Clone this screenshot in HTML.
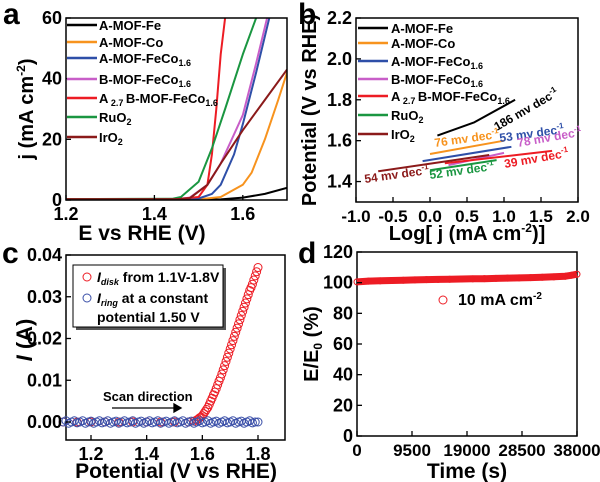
<!DOCTYPE html>
<html><head><meta charset="utf-8"><style>
html,body{margin:0;padding:0;background:#fff;}
svg{display:block;font-family:"Liberation Sans",Arial,sans-serif;font-weight:bold;}
</style></head><body>
<svg id="fig" width="600" height="482" viewBox="0 0 600 482">
<g id="pa"></g>
<g id="pb"></g>
<g id="pc"></g>
<g id="pd"></g>
</svg>
<script>
// ---------- Panel a data ----------
const aNames = ["A-MOF-Fe","A-MOF-Co","A-MOF-FeCo","B-MOF-FeCo","A2.7B-MOF-FeCo","RuO2","IrO2"];
const aColors = ["#000000","#f7931e","#2e4fa8","#c85ec8","#ed1c24","#1a9641","#8b1a1a"];
const aFeV = [1.2,1.4,1.5,1.55,1.6,1.65,1.7];
const aFeJ = [0.2,0.2,0.1,0.2,0.8,2,4];
const aCoV = [1.2,1.45,1.5,1.55,1.6,1.62,1.65,1.68,1.7];
const aCoJ = [0.3,0.3,0.2,1,5,9,20,33,42];
const aAFeCoV = [1.2,1.45,1.5,1.53,1.55,1.58,1.6,1.63,1.66];
const aAFeCoJ = [0.3,0.3,0.5,2,5,15,25,42,60];
const aBFeCoV = [1.2,1.45,1.48,1.52,1.55,1.6,1.63,1.655];
const aBFeCoJ = [0.3,0.3,0.8,5,12,28,45,60];
const aA27V = [1.2,1.45,1.5,1.52,1.53,1.54,1.55,1.56];
const aA27J = [0.3,0.3,1,5,15,30,48,60];
const aRuV = [1.2,1.44,1.46,1.5,1.53,1.56,1.6,1.63];
const aRuJ = [0.3,0.4,1,6,17,30,48,60];
const aIrV = [1.2,1.45,1.48,1.52,1.55,1.6,1.65,1.7];
const aIrJ = [0.3,0.3,0.6,5,12,23,33,43];
const aXTicks = [1.2,1.4,1.6];
const aYTicks = [0,20,40,60];
// ---------- Panel b data ----------
const bLogJ = [[0.1,0.6,1.15],[0.0,1.0],[-0.1,1.1],[0.25,1.0],[0.2,1.65],[0.0,0.9],[-0.7,0.8]];
const bV = [[1.625,1.69,1.80],[1.535,1.60],[1.50,1.57],[1.48,1.54],[1.49,1.55],[1.455,1.505],[1.45,1.53]];
const bSlopes = ["186 mv dec","76 mv dec","53 mv dec","78 mv dec","39 mv dec","52 mv dec","54 mv dec"];
const bXTicks = [-1.0,-0.5,0.0,0.5,1.0,1.5,2.0];
const bYTicks = [1.4,1.6,1.8,2.0,2.2];
// ---------- Panel c data ----------
const cDiskV = [1.1,1.15,1.2,1.25,1.3,1.35,1.4,1.45,1.5,1.55,1.57,1.58,1.585,1.59,1.595,1.60,1.605,1.61,1.615,1.62,1.625,1.63,1.635,1.64,1.645,1.65,1.655,1.66,1.665,1.67,1.675,1.68,1.685,1.69,1.695,1.70,1.705,1.71,1.715,1.72,1.725,1.73,1.735,1.74,1.745,1.75,1.755,1.76,1.765,1.77,1.775,1.78,1.785,1.79,1.795,1.80];
const cDiskI = [0,0,0,0,0,0,0,0,0,0,0.0002,0.0005,0.0007,0.001,0.0012,0.0015,0.002,0.0025,0.003,0.0035,0.0042,0.005,0.0057,0.0065,0.0072,0.008,0.0089,0.0098,0.0106,0.0115,0.0125,0.0135,0.0145,0.0155,0.0165,0.0175,0.0185,0.0195,0.0205,0.0215,0.0225,0.0235,0.0245,0.0255,0.0265,0.0275,0.0285,0.0295,0.0305,0.0315,0.0322,0.033,0.034,0.035,0.036,0.037];
const cRingV = [1.10,1.11,1.12,1.13,1.14,1.15,1.16,1.17,1.18,1.19,1.20,1.21,1.22,1.23,1.24,1.25,1.26,1.27,1.28,1.29,1.30,1.31,1.32,1.33,1.34,1.35,1.36,1.37,1.38,1.39,1.40,1.41,1.42,1.43,1.44,1.45,1.46,1.47,1.48,1.49,1.50,1.51,1.52,1.53,1.54,1.55,1.56,1.57,1.58,1.59,1.60,1.61,1.62,1.63,1.64,1.65,1.66,1.67,1.68,1.69,1.70,1.71,1.72,1.73,1.74,1.75,1.76,1.77,1.78,1.79,1.80];
const cRingI = [0,0.0003,-0.0003,0,0.0003,-0.0002,0,0.0003,-0.0003,0,0.0002,-0.0003,0,0.0003,-0.0002,0,0.0003,-0.0003,0,0.0002,-0.0003,0,0.0003,-0.0002,0,0.0003,-0.0003,0,0.0002,-0.0003,0,0.0003,-0.0002,0,0.0003,-0.0003,0,0.0002,-0.0003,0,0.0003,-0.0002,0,0.0003,-0.0003,0,0.0002,-0.0003,0,0.0003,-0.0002,0,0.0003,-0.0003,0,0.0002,-0.0003,0,0.0003,-0.0002,0,0.0003,-0.0003,0,0.0002,-0.0003,0,0.0003,-0.0002,0,0];
const cXTicks = [1.2,1.4,1.6,1.8];
const cYTicks = [0.00,0.01,0.02,0.03,0.04];
// ---------- Panel d data ----------
const dTime = [0,2000,4000,6000,8000,10000,12000,14000,16000,18000,20000,22000,24000,26000,28000,30000,32000,34000,36000,37000,38000];
const dRatio = [100.5,101,101.2,101.4,101.6,101.8,102,102.1,102.2,102.4,102.5,102.6,102.8,103,103.1,103.3,103.5,103.8,104.2,104.8,105.5];
const dXTicks = [0,9500,19000,28500,38000];
const dYTicks = [0,20,40,60,80,100,120];

const NS="http://www.w3.org/2000/svg";
function mk(parent,tag,attrs){const e=document.createElementNS(NS,tag);for(const k in attrs)e.setAttribute(k,attrs[k]);parent.appendChild(e);return e;}
function lin(d0,d1,p0,p1){return v=>p0+(v-d0)*(p1-p0)/(d1-d0);}
function frame(g,x0,y0,x1,y1){
  const r=mk(g,'rect',{x:x0,y:y0,width:x1-x0,height:y1-y0,fill:'none',stroke:'#000','stroke-width':1.5});
  
  
}
function txt(g,x,y,s,size,anchor,name,fill){
  const t=mk(g,'text',{x:x,y:y,'font-size':size,'text-anchor':anchor||'start',fill:fill||'#000'});
  t.textContent=s;
  
  
  return t;
}
function xticks(g,ticks,X,y1,fmt,size){
  ticks.forEach(v=>{mk(g,'line',{x1:X(v),x2:X(v),y1:y1,y2:y1-5,stroke:'#000','stroke-width':1.3});
    txt(g,X(v),y1+20,fmt(v),size||18,'middle','x-tick-label');});
}
function yticks(g,ticks,Y,x0,fmt){
  ticks.forEach(v=>{mk(g,'line',{x1:x0,x2:x0+5,y1:Y(v),y2:Y(v),stroke:'#000','stroke-width':1.3});
    txt(g,x0-4,Y(v)+6,fmt(v),18,'end','y-tick-label');});
}
function path(g,xs,ys,X,Y,color,w,name){
  const d=xs.map((v,i)=>(i?'L':'M')+X(v).toFixed(1)+','+Y(ys[i]).toFixed(1)).join('');
  const p=mk(g,'path',{d:d,fill:'none',stroke:color,'stroke-width':w,'stroke-linejoin':'round'});
  
  
  return p;
}
function legendLabel(g,x,y,i){
  const t=mk(g,'text',{x:x,y:y,'font-size':13});
  
  
  if(i===4){t.innerHTML='A<tspan font-size="9" dy="3"> 2.7 </tspan><tspan dy="-3">B-MOF-FeCo</tspan><tspan font-size="9" dy="3">1.6</tspan>';}
  else if(i===2||i===3){t.innerHTML=(i===2?'A':'B')+'-MOF-FeCo<tspan font-size="9" dy="3">1.6</tspan>';}
  else if(i===5){t.innerHTML='RuO<tspan font-size="9" dy="3">2</tspan>';}
  else if(i===6){t.innerHTML='IrO<tspan font-size="9" dy="3">2</tspan>';}
  else t.textContent=aNames[i];
}

// ===== Panel a =====
(function(){
  const g=document.getElementById('pa');
  const X=lin(1.2,1.7,66,287), Y=lin(0,60,200,18);
  const clip=mk(g,'clipPath',{id:'clipA'}); mk(clip,'rect',{x:66,y:18,width:221,height:182});
  const cg=mk(g,'g',{'clip-path':'url(#clipA)'});
  const sV=[aFeV,aCoV,aAFeCoV,aBFeCoV,aA27V,aRuV,aIrV], sJ=[aFeJ,aCoJ,aAFeCoJ,aBFeCoJ,aA27J,aRuJ,aIrJ];
  sV.forEach((v,i)=>path(cg,v,sJ[i],X,Y,aColors[i],2,'curve-'+aNames[i].toLowerCase().replace(/\./g,'')));
  frame(g,66,18,287,200);
  xticks(g,aXTicks,X,200,v=>v.toFixed(1));
  yticks(g,aYTicks,Y,66,v=>String(v));
  const ly=[25,42,58,79,98,117,137];
  ly.forEach((y,i)=>{const l=mk(g,'line',{x1:67,x2:97,y1:y,y2:y,stroke:aColors[i],'stroke-width':2.5});
    
    legendLabel(g,99,y+5,i);});
  txt(g,3,24,'a',30,'start','panel-label');
  txt(g,142,240,'E vs RHE (V)',21,'middle','x-axis-title');
  const yt=txt(g,33,109,'',20,'middle','y-axis-title');
  yt.setAttribute('transform','rotate(-90 33 109)');
  yt.innerHTML='j (mA cm<tspan font-size="12" dy="-8">-2</tspan><tspan dy="8">)</tspan>';
})();

// ===== Panel b =====
(function(){
  const g=document.getElementById('pb');
  const X=lin(-1,2,356,578), Y=lin(1.3,2.2,202,18);
  bLogJ.forEach((xs,i)=>path(g,xs,bV[i],X,Y,aColors[i],2,'tafel-'+aNames[i].toLowerCase().replace(/\./g,'')));
  frame(g,356,18,578,202);
  xticks(g,bXTicks,X,202,v=>v.toFixed(1),17);
  yticks(g,bYTicks,Y,356,v=>v.toFixed(1));
  const ly=[28,43,61,79,96,115,134];
  ly.forEach((y,i)=>{const l=mk(g,'line',{x1:358,x2:388,y1:y,y2:y,stroke:aColors[i],'stroke-width':2.5});
    
    legendLabel(g,391,y+5,i);});
  const lab=[[497,131,-30],[435,147,-8],[500,142,-8],[518,147,-10],[505,168,-10],[430,179,-8],[365,183,-8]];
  lab.forEach((p,i)=>{const t=mk(g,'text',{x:p[0],y:p[1],'font-size':12,fill:aColors[i],transform:`rotate(${p[2]} ${p[0]} ${p[1]})`});
    t.innerHTML=bSlopes[i]+'<tspan font-size="8" dy="-5">-1</tspan>';
    });
  txt(g,298,24,'b',30,'start','panel-label');
  const xt=txt(g,467,240,'',20,'middle','x-axis-title');
  xt.innerHTML='Log[ j (mA cm<tspan font-size="12" dy="-8">-2</tspan><tspan dy="8">)]</tspan>';
  const yt=txt(g,316,110,'Potential (V vs RHE)',20,'middle','y-axis-title');
  yt.setAttribute('transform','rotate(-90 316 110)');
})();

// ===== Panel c =====
(function(){
  const g=document.getElementById('pc');
  const X=lin(1.2,1.8,91,258), Y=lin(0,0.04,422,255);
  frame(g,66,255,285,440);
  cDiskV.forEach((v,i)=>{const c=mk(g,'circle',{cx:X(v),cy:Y(cDiskI[i]),r:4,fill:'none',stroke:'#ed1c24','stroke-width':1});
    });
  cRingV.forEach((v,i)=>{const c=mk(g,'circle',{cx:X(v),cy:Y(cRingI[i]),r:4,fill:'none',stroke:'#3a4fa8','stroke-width':1});
    });
  xticks(g,cXTicks,X,440,v=>v.toFixed(1));
  yticks(g,cYTicks,Y,66,v=>v.toFixed(2));
  mk(g,'rect',{x:76,y:268,width:150,height:62,fill:'#555'});
  const box=mk(g,'rect',{x:73,y:265,width:150,height:62,fill:'#fff',stroke:'#000','stroke-width':1});
  
  mk(g,'circle',{cx:87,cy:277,r:4,fill:'none',stroke:'#ed1c24'});
  mk(g,'circle',{cx:87,cy:298,r:4,fill:'none',stroke:'#3a4fa8'});
  const t1=txt(g,97,282,'',14,'start','legend-disk');
  t1.innerHTML='<tspan font-style="italic">I</tspan><tspan font-size="9" font-style="italic" dy="3">disk</tspan><tspan dy="-3"> from 1.1V-1.8V</tspan>';
  const t2=txt(g,97,303,'',14,'start','legend-ring');
  t2.innerHTML='<tspan font-style="italic">I</tspan><tspan font-size="9" font-style="italic" dy="3">ring</tspan><tspan dy="-3"> at a constant</tspan>';
  txt(g,97,322,'potential 1.50 V',14,'start','legend-ring-2');
  txt(g,103,401,'Scan direction',13,'start','scan-direction-label');
  const ar=mk(g,'path',{d:'M112,408L174,408M174,404L181,408L174,412Z',stroke:'#000','stroke-width':1.3,fill:'#000'});
  
  txt(g,2,263,'c',30,'start','panel-label');
  txt(g,176,478,'Potential (V vs RHE)',21,'middle','x-axis-title');
  const yt=mk(g,'text',{x:32,y:340,'font-size':22,'text-anchor':'middle',transform:'rotate(-90 32 340)'});
  yt.innerHTML='<tspan font-style="italic">I</tspan> (A)';
  
})();

// ===== Panel d =====
(function(){
  const g=document.getElementById('pd');
  const X=lin(0,38000,357,577), Y=lin(0,120,436,252);
  frame(g,357,252,577,436);
  path(g,dTime,dRatio,X,Y,'#ed1c24',7,'stability-band');
  dTime.forEach((t,i)=>{const c=mk(g,'circle',{cx:X(t),cy:Y(dRatio[i]),r:3,fill:'none',stroke:'#ed1c24','stroke-width':1});
    });
  xticks(g,dXTicks,X,436,v=>String(v),17);
  yticks(g,dYTicks,Y,357,v=>String(v));
  mk(g,'circle',{cx:443,cy:300,r:4,fill:'none',stroke:'#ed1c24'});
  const lt=txt(g,458,305,'',16,'start','legend-label');
  lt.innerHTML='10 mA cm<tspan font-size="10" dy="-6">-2</tspan>';
  txt(g,298,263,'d',30,'start','panel-label');
  txt(g,467,478,'Time (s)',21,'middle','x-axis-title');
  const yt=txt(g,318,344,'',20,'middle','y-axis-title');
  yt.setAttribute('transform','rotate(-90 318 344)');
  yt.innerHTML='E/E<tspan font-size="12" dy="4">0</tspan><tspan dy="-4"> (%)</tspan>';
})();
</script>
</body></html>
